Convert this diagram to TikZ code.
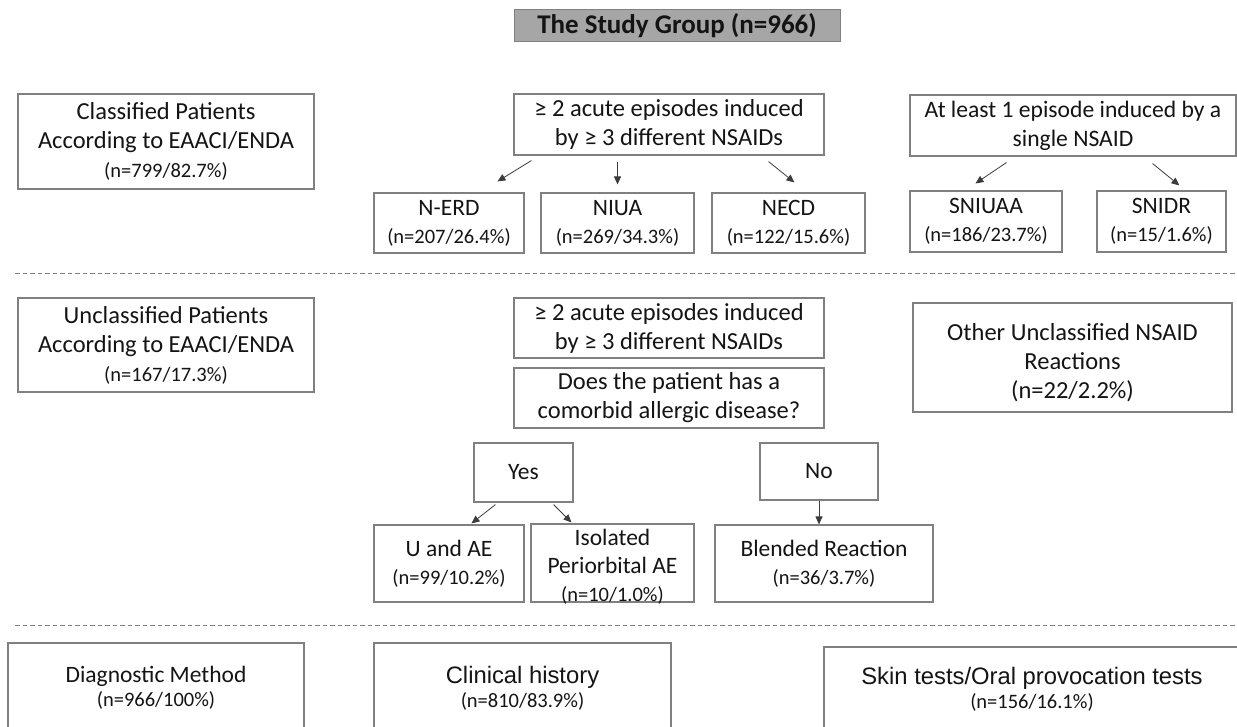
\documentclass[tikz,border=0pt]{standalone}
\usepackage{fontspec}
\setmainfont{Carlito}
\newfontfamily\arialf{Liberation Sans}
\usetikzlibrary{arrows.meta}
\newcommand\bigt{\fontsize{24.5}{29}\selectfont}
\newcommand\midt{\fontsize{23.5}{28}\selectfont}
\newcommand\smt{\fontsize{20.5}{26}\selectfont}
\definecolor{bordergray}{RGB}{128,128,128}
\definecolor{titlefill}{RGB}{166,166,166}
\definecolor{arrgray}{RGB}{60,60,60}
\definecolor{txt}{RGB}{20,20,20}
\begin{document}
\begin{tikzpicture}[x=1pt,y=-1pt,
  box/.style={draw=bordergray,line width=1.1pt,inner sep=1pt,align=center,font=\bigt,text=txt},
  kid/.style={box,font=\midt},
  emptybox/.style={draw=bordergray,line width=1.1pt,inner sep=0pt},
  label/.style={align=center,font=\midt,text=txt,inner sep=0pt},
  arr/.style={draw=arrgray,line width=0.8pt,-{Triangle[length=8pt,width=7pt]}},
  sep/.style={draw=bordergray,line width=0.9pt,dash pattern=on 4.5pt off 3pt}]
\useasboundingbox (0,0) rectangle (1237,727);
\fill[white] (0,0) rectangle (1237,727);

% title
\node[draw=bordergray,fill=titlefill,line width=1pt,minimum width=326,minimum height=32,inner sep=0pt,font=\fontsize{27}{30}\selectfont\bfseries,text=txt] (title) at (677,26) {The Study Group (n=966)};

% separators
\coordinate (s1a) at (15,273); \coordinate (s1b) at (1237,273);
\coordinate (s2a) at (15,625); \coordinate (s2b) at (1237,625);
\draw[sep] (s1a) -- (s1b);
\draw[sep] (s2a) -- (s2b);

% section 1
\node[box,minimum width=296,minimum height=95] (cls) at (166,141.5) {Classified Patients\\According to EAACI/ENDA\\{\smt (n=799/82.7\%)}};
\node[box,minimum width=310,minimum height=61] (A) at (669,124.5) {≥ 2 acute episodes induced\\by ≥ 3 different NSAIDs};
\node[box,font=\fontsize{23.6}{29}\selectfont,minimum width=326,minimum height=61] (B) at (1073,125.5) {At least 1 episode induced by a\\single NSAID};
\node[kid,minimum width=150,minimum height=60] (nerd) at (449,223) {N-ERD\\{\smt (n=207/26.4\%)}};
\node[kid,minimum width=153,minimum height=60] (niua) at (617.5,223) {NIUA\\{\smt (n=269/34.3\%)}};
\node[kid,minimum width=153,minimum height=60] (necd) at (788.5,223) {NECD\\{\smt (n=122/15.6\%)}};
\node[kid,minimum width=152,minimum height=61] (sniuaa) at (986,221.5) {SNIUAA\\{\smt (n=186/23.7\%)}};
\node[kid,minimum width=129,minimum height=61] (snidr) at (1161.5,221.5) {SNIDR\\{\smt (n=15/1.6\%)}};

\draw[arr] ([shift={(18,5)}]A.south west) -- ([shift={(124,-11)}]nerd.north west);
\draw[arr] ([shift={(0,-30)}]niua.north) -- ([shift={(0,-8)}]niua.north);
\draw[arr] ([shift={(-56,6)}]A.south east) -- ([shift={(83,-10)}]necd.north west);
\draw[arr] ([shift={(97,6)}]B.south west) -- ([shift={(66,-7)}]sniuaa.north west);
\draw[arr] ([shift={(-84,7)}]B.south east) -- ([shift={(83,-5)}]snidr.north west);

% section 2
\node[box,minimum width=296,minimum height=94] (unc) at (166,345) {Unclassified Patients\\According to EAACI/ENDA\\{\smt (n=167/17.3\%)}};
\node[box,minimum width=310,minimum height=60] (A2) at (669,328) {≥ 2 acute episodes induced\\by ≥ 3 different NSAIDs};
\node[box,minimum width=310,minimum height=60] (does) at (669,398) {Does the patient has a\\comorbid allergic disease?};
\node[emptybox,minimum width=319,minimum height=109] (other) at (1072.5,357.5) {};
\node[label,font=\bigt] (otherT) at ([shift={(0,5)}]other.center) {Other Unclassified NSAID\\Reactions\\(n=22/2.2\%)};
\node[kid,minimum width=99,minimum height=59] (yes) at (523.5,472.5) {Yes};
\node[kid,minimum width=118,minimum height=57] (no) at (819,471.5) {No};
\node[kid,minimum width=150,minimum height=77] (uae) at (449,563.5) {U and AE\\{\smt (n=99/10.2\%)}};
\node[emptybox,minimum width=163,minimum height=78] (iso) at (612.5,563) {};
\node[label] (isoT) at ([shift={(0,4)}]iso.center) {Isolated\\Periorbital AE\\{\smt (n=10/1.0\%)}};
\node[kid,minimum width=218,minimum height=77] (blend) at (824,563.5) {Blended Reaction\\{\smt (n=36/3.7\%)}};

\draw[arr] ([shift={(22,2)}]yes.south west) -- ([shift={(98,-1)}]uae.north west);
\draw[arr] ([shift={(-20,2)}]yes.south east) -- ([shift={(41,-1)}]iso.north west);
\draw[arr] (no.south) -- (no.south |- blend.north);

% section 3
\node[emptybox,minimum width=296,minimum height=92] (diag) at (156,689) {};
\node[label,font=\midt] (diagT) at (156,688) {Diagnostic Method\\[-4pt]{\smt (n=966/100\%)}};
\node[emptybox,minimum width=297,minimum height=92] (clin) at (522.5,689) {};
\node[label] (clinT) at (522.5,688) {{\arialf\fontsize{23.8}{28}\selectfont Clinical history}\\[-4pt]{\smt (n=810/83.9\%)}};
\node[emptybox,minimum width=416,minimum height=88] (skin) at (1032,691) {};
\node[label] (skinT) at (1032,689) {{\arialf\fontsize{23.8}{28}\selectfont Skin tests/Oral provocation tests}\\[-4pt]{\smt (n=156/16.1\%)}};
\end{tikzpicture}
\end{document}
